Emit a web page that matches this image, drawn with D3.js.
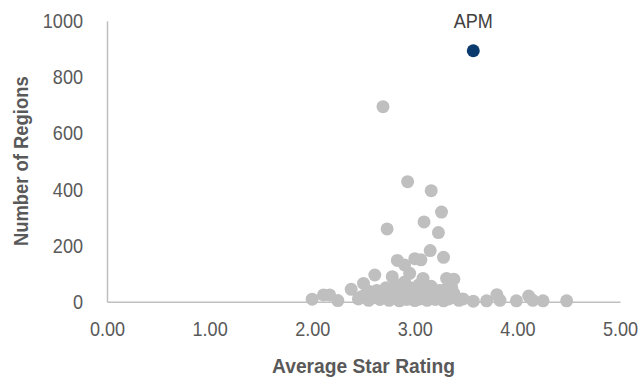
<!DOCTYPE html>
<html>
<head>
<meta charset="utf-8">
<script src="https://cdn.jsdelivr.net/npm/d3@7"></script>
<style>
  html, body { margin: 0; padding: 0; background: #fff; }
  svg { display: block; }
  .lbl { font-family: "Liberation Sans", Arial, sans-serif; }
</style>
</head>
<body>
<svg id="chart" width="641" height="383"></svg>
<script>
// ---- data ----
const xTicks = [0, 1, 2, 3, 4, 5];
const yTicks = [0, 200, 400, 600, 800, 1000];
const otherRating = [
  2.69, 2.93, 3.16, 3.26, 3.09, 2.73, 3.23, 3.15, 3.28, 2.83, 2.90, 3.00, 3.06,
  2.95, 2.61, 2.78, 3.08, 3.31, 3.38, 2.50, 2.38, 2.00, 2.11, 2.17, 2.25, 2.48, 2.56,
  3.47, 3.57, 3.70, 3.80, 3.83, 3.99, 4.11, 4.15, 4.25, 4.48, 3.29, 3.38,
  2.45, 2.52, 2.55, 2.60, 2.63, 2.66, 2.70, 2.72, 2.75, 2.78, 2.80, 2.82, 2.85, 2.86,
  2.88, 2.90, 2.92, 2.94, 2.96, 2.98, 3.00, 3.02, 3.04, 3.05, 3.08, 3.10, 3.12, 3.14,
  3.16, 3.18, 3.20, 3.22, 3.24, 3.26, 3.28, 3.30, 3.33, 3.36, 3.40, 3.43
];
const otherRegions = [
  694, 427, 395, 319, 284, 259, 246, 182, 158, 147, 131, 153, 149,
  101, 95, 89, 83, 83, 80, 65, 44, 9, 24, 24, 4, 18, 36,
  10, 2, 3, 25, 5, 3, 20, 5, 3, 3, 42, 30,
  10, 25, 5, 15, 40, 8, 20, 50, 5, 30, 12, 60, 3, 40,
  20, 70, 8, 30, 50, 15, 4, 35, 60, 10, 25, 45, 5, 18,
  55, 30, 8, 20, 40, 12, 3, 25, 10, 50, 15, 5
];
const apmRating = [3.57];
const apmRegions = [893];
const apmLabel = ["APM"];
const xTitle = "Average Star Rating";
const yTitle = "Number of Regions";

// ---- drawing ----
const svg = d3.select("#chart");
const x = d3.scaleLinear().domain([0, 5]).range([107, 620]);
const y = d3.scaleLinear().domain([0, 1000]).range([301.7, 20.7]);
const textColor = "#595959";
const axisColor = "#BFBFBF";

function condense(k) {
  return sel => sel.each(function () {
    const w = this.getComputedTextLength();
    d3.select(this).attr("textLength", w * k).attr("lengthAdjust", "spacingAndGlyphs");
  });
}

const xAxis = svg.append("g")
  .attr("transform", `translate(0,${y(0)})`)
  .call(d3.axisBottom(x).tickValues(xTicks).tickFormat(d3.format(".2f")).tickSize(0).tickSizeOuter(0).tickPadding(19));
const yAxis = svg.append("g")
  .attr("transform", `translate(${x(0)},0)`)
  .call(d3.axisLeft(y).tickValues(yTicks).tickFormat(d3.format("d")).tickSize(0).tickSizeOuter(0).tickPadding(24));

[xAxis, yAxis].forEach(g => {
  g.select(".domain").attr("stroke", axisColor).attr("stroke-width", 1.5);
  g.selectAll("text").attr("class", "lbl").attr("fill", textColor)
    .style("font-size", "21px").call(condense(0.86));
});

// points
const pts = otherRating.map((r, i) => ({ r, n: otherRegions[i] }));
svg.append("g").selectAll("circle").data(pts).join("circle")
  .attr("cx", d => x(d.r)).attr("cy", d => y(d.n)).attr("r", 6.5)
  .attr("fill", "#BFBFBF");

const apm = apmRating.map((r, i) => ({ r, n: apmRegions[i], label: apmLabel[i] }));
svg.append("g").selectAll("circle").data(apm).join("circle")
  .attr("cx", d => x(d.r)).attr("cy", d => y(d.n)).attr("r", 6.5)
  .attr("fill", "#0B3A6F");
svg.append("g").selectAll("text").data(apm).join("text")
  .attr("class", "lbl")
  .attr("x", d => x(d.r)).attr("y", d => y(d.n) - 23)
  .attr("text-anchor", "middle").attr("fill", "#404040")
  .style("font-size", "21px").text(d => d.label).call(condense(0.86));

// axis titles
svg.append("text").attr("class", "lbl")
  .attr("x", (x(0) + x(5)) / 2).attr("y", 373)
  .attr("text-anchor", "middle").attr("fill", textColor)
  .style("font-size", "20px").style("font-weight", "bold").text(xTitle).call(condense(0.96));
svg.append("text").attr("class", "lbl")
  .attr("transform", `translate(28,${(y(0) + y(1000)) / 2}) rotate(-90)`)
  .attr("text-anchor", "middle").attr("fill", textColor)
  .style("font-size", "20px").style("font-weight", "bold").text(yTitle).call(condense(0.92));
</script>
</body>
</html>
